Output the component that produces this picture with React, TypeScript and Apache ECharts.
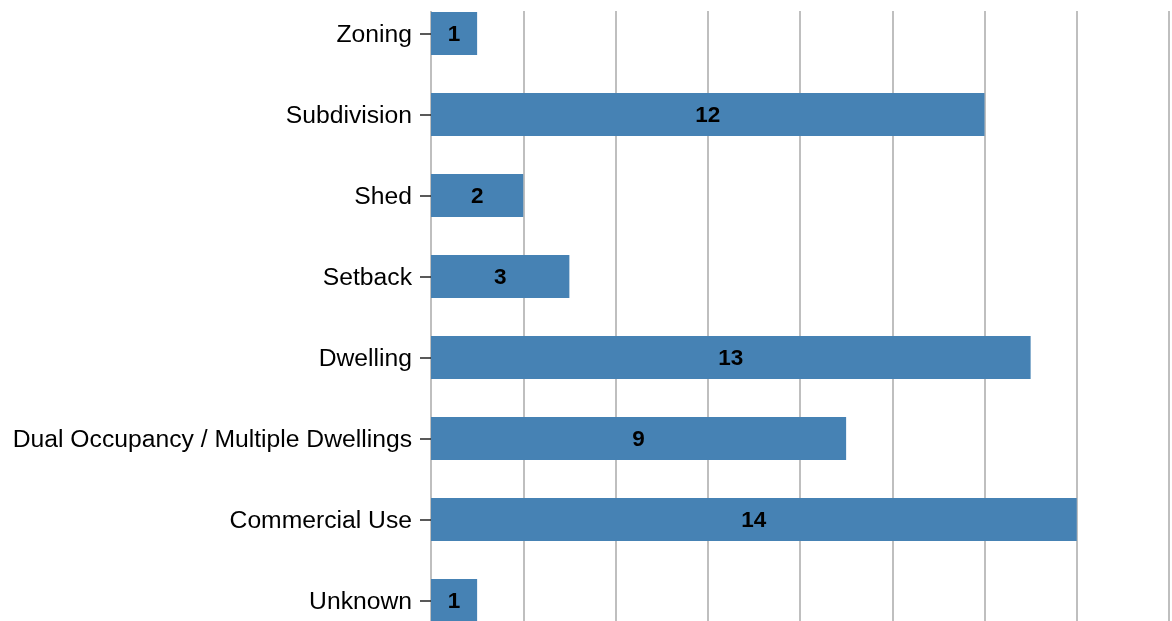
import React, { useEffect, useRef } from "react";
import * as echarts from "echarts";

const categories = [
  "Zoning",
  "Subdivision",
  "Shed",
  "Setback",
  "Dwelling",
  "Dual Occupancy / Multiple Dwellings",
  "Commercial Use",
  "Unknown",
];
const counts = [1, 12, 2, 3, 13, 9, 14, 1];
const xMin = 0;
const xMax = 16;
const xInterval = 2;

const FONT = "Arial, 'Liberation Sans', Helvetica, sans-serif";
const OFFSET = 20;

export default function App() {
  const ref = useRef<HTMLDivElement>(null);
  useEffect(() => {
    if (!ref.current) return;
    const chart = echarts.init(ref.current, null, { renderer: "svg" });
    chart.setOption({
      animation: false,
      grid: [
        { left: 431, top: OFFSET - 7, width: 738, height: 648 },
        { left: 431, top: OFFSET + 11, width: 738, height: 640 },
      ],
      xAxis: [
        {
          gridIndex: 0,
          type: "value",
          min: xMin,
          max: xMax,
          interval: xInterval,
          show: false,
          splitLine: { show: false },
        },
        {
          gridIndex: 1,
          type: "value",
          min: xMin,
          max: xMax,
          interval: xInterval,
          axisLine: { show: false },
          axisTick: { show: false },
          axisLabel: { show: false },
          splitLine: { show: true, lineStyle: { color: "#aaaaaa", width: 1.5 } },
        },
      ],
      yAxis: [
        {
          gridIndex: 0,
          type: "category",
          data: categories,
          inverse: true,
          axisLine: { show: false },
          axisTick: {
            show: true,
            alignWithLabel: true,
            length: 11,
            lineStyle: { color: "#222", width: 1.5 },
          },
          axisLabel: {
            margin: 19,
            color: "#000",
            fontSize: 24.7,
            fontFamily: FONT,
          },
          splitLine: { show: false },
        },
        {
          gridIndex: 1,
          type: "value",
          show: false,
          splitLine: { show: false },
        },
      ],
      series: [
        {
          type: "bar",
          xAxisIndex: 0,
          yAxisIndex: 0,
          data: counts,
          barWidth: 43,
          itemStyle: { color: "#4682b4" },
          label: {
            show: true,
            position: "inside",
            color: "#000",
            fontWeight: "bold",
            fontSize: 22.5,
            fontFamily: FONT,
          },
        },
      ],
    });
    return () => chart.dispose();
  }, []);
  return (
    <div
      ref={ref}
      style={{ position: "fixed", left: 0, top: -OFFSET, width: 1172, height: 700 }}
    />
  );
}
